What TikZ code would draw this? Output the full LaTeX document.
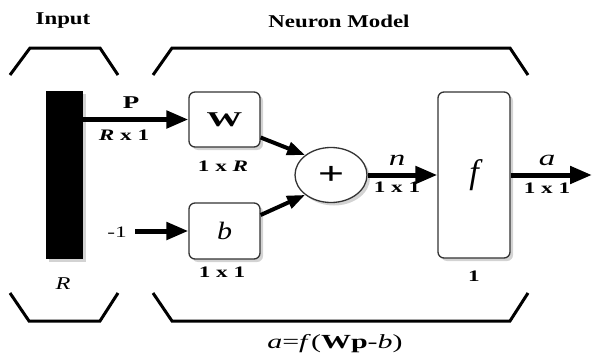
\documentclass[tikz,border=0pt]{standalone}
\usepackage{fontspec}
\setmainfont{Liberation Serif}
\usetikzlibrary{shapes.geometric,shadows,arrows.meta}
\newcommand{\widetxt}[2][1.45]{\scalebox{#1}[1]{#2}}
\begin{document}
\begin{tikzpicture}[x=1pt,y=-1pt,
  blk/.style={draw=black!80,line width=1.3pt,fill=white,rounded corners=6pt,
    minimum width=71pt,minimum height=55pt,inner sep=0pt,
    drop shadow={opacity=0.35,shadow xshift=3pt,shadow yshift=-3pt}},
  bracket/.style={line width=3pt,line join=miter},
  thickarrow/.style={line width=5pt,-{Triangle[length=22pt,width=17pt]}},
  diagarrow/.style={line width=4pt,-{Triangle[length=18pt,width=13pt]}},
  lbl/.style={font=\bfseries\fontsize{16}{16}\selectfont,inner sep=0pt},
  ttl/.style={font=\bfseries\fontsize{18}{18}\selectfont,inner sep=0pt}]
\useasboundingbox (0,0) rectangle (592,356);
% titles
\node[ttl] (tin) at (63,21) {\widetxt[1.27]{Input}};
\node[ttl] (tnm) at (339,21) {\widetxt[1.27]{Neuron Model}};
% brackets
\draw[bracket] (10,75) -- (30,48) -- (100,48) -- (118,75);
\draw[bracket] (153,75) -- (172,48) -- (510,48) -- (528,75);
\draw[bracket] (10,293) -- (29,321) -- (100,321) -- (118,293);
\draw[bracket] (153,293) -- (172,321) -- (510,321) -- (528,293);
% blocks
\node[fill=black,minimum width=37pt,minimum height=168pt,inner sep=0pt,
  drop shadow={opacity=0.35,shadow xshift=3pt,shadow yshift=-3pt}] (bar) at (64.5,175) {};
\node[blk] (W) at (224.5,119.5) {\fontsize{21}{21}\selectfont\bfseries\widetxt[1.7]{W}};
\node[blk,minimum height=56pt] (b) at (224.5,231) {\fontsize{25}{25}\selectfont\itshape\widetxt[1.2]{b}};
\node[ellipse,draw=black!80,line width=1.3pt,fill=white,minimum width=72pt,minimum height=55pt,inner sep=0pt,
  drop shadow={opacity=0.35,shadow xshift=3pt,shadow yshift=-3pt}] (sum) at (331,175) {\fontsize{32}{32}\selectfont\bfseries\widetxt{+}};
\node[blk,minimum width=72pt,minimum height=166pt] (f) at (474,175) {\fontsize{34}{34}\selectfont\itshape f};
% labels
\node[lbl,font=\bfseries\fontsize{18}{18}\selectfont] (lp) at (131,103) {\widetxt[1.5]{P}};
\node[lbl] (lpd) at (124,135) {\widetxt{\textit{R} x 1}};
\node[lbl] (lwd) at (223,166) {\widetxt{1 x \textit{R}}};
\node[lbl] (lbd) at (222,272) {\widetxt{1 x 1}};
\node[lbl,font=\itshape\fontsize{18}{18}\selectfont] (lr) at (63,284) {\widetxt[1.35]{R}};
\node[lbl,font=\itshape\fontsize{22}{22}\selectfont] (ln) at (397,160) {\widetxt[1.5]{n}};
\node[lbl] (lnd) at (397,187) {\widetxt{1 x 1}};
\node[lbl,font=\itshape\fontsize{22}{22}\selectfont] (la) at (547,160) {\widetxt[1.5]{a}};
\node[lbl] (lad) at (547,188) {\widetxt{1 x 1}};
\node[lbl] (lf1) at (474,276) {\widetxt{1}};
\node[lbl,font=\fontsize{16}{16}\selectfont] (lm1) at (117,232) {\widetxt{-1}};
\node[lbl,font=\fontsize{20}{20}\selectfont] (form) at (335,344) {\widetxt[1.5]{\textit{a}=\textit{f}(\textbf{Wp}-\textit{b})}};
% connectors
\coordinate (mstart) at (135,231);
\coordinate (out) at (592,175);
\draw[thickarrow] (bar.east |- W.west) -- (W.west);
\draw[thickarrow] (mstart) -- (b.west);
\draw[diagarrow] ([yshift=-18pt]W.east) -- (sum.north west);
\draw[diagarrow] ([yshift=16pt]b.east) -- (sum.south west);
\draw[thickarrow] (sum.east) -- (f.west);
\draw[thickarrow] (f.east) -- (out);
\end{tikzpicture}
\end{document}
